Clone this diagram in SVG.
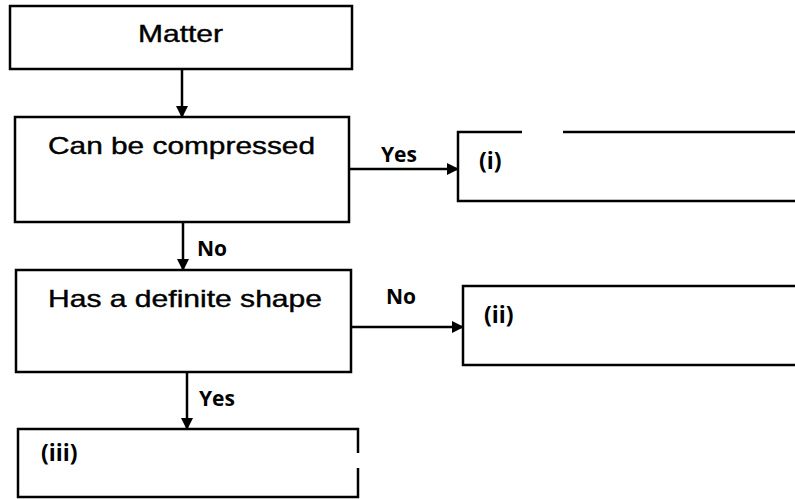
<svg xmlns="http://www.w3.org/2000/svg" width="795" height="499" viewBox="0 0 795 499">
<style>
.box{fill:none;stroke:#000;stroke-width:2.5}
.conn{fill:none;stroke:#000;stroke-width:2.5}
.main{font-family:"Liberation Sans",Arial,sans-serif;font-size:24px;fill:#000;stroke:#000;stroke-width:0.4}
.lbl{font-family:"Open Sans","Liberation Sans",sans-serif;font-size:21px;font-weight:bold;fill:#000}
.roman{font-family:"Open Sans","Liberation Sans",sans-serif;font-size:23px;font-weight:bold;fill:#000}
</style>
<defs>
<marker id="ah" markerWidth="12" markerHeight="12" refX="11" refY="6" orient="auto" markerUnits="userSpaceOnUse">
<path d="M0,0 L12,6 L0,12 Z" fill="#000"/>
</marker>
</defs>
<rect width="795" height="499" fill="#fff"/>
<g id="matter">
<rect class="box" x="10" y="6" width="342" height="63"/>
<text class="main" x="138" y="42" textLength="85" lengthAdjust="spacingAndGlyphs">Matter</text>
</g>
<g id="compressed">
<rect class="box" x="15" y="117" width="334" height="105"/>
<text class="main" x="48" y="154" textLength="267" lengthAdjust="spacingAndGlyphs">Can be compressed</text>
</g>
<g id="box-i">
<path class="box" d="M522,132 L458,132 L458,201 L795,201 M563,132 L795,132"/>
<text class="roman" x="479" y="169">(i)</text>
</g>
<g id="shape">
<rect class="box" x="16" y="270" width="335" height="102"/>
<text class="main" x="48" y="307" textLength="274" lengthAdjust="spacingAndGlyphs">Has a definite shape</text>
</g>
<g id="box-ii">
<path class="box" d="M795,286 L463,286 L463,365 L795,365"/>
<text class="roman" x="484" y="323">(ii)</text>
</g>
<g id="box-iii">
<path class="box" d="M358,453 L358,429 L18,429 L18,497 L358,497 L358,468"/>
<text class="roman" x="41" y="461">(iii)</text>
</g>
<g id="connectors">
<line class="conn" x1="182" y1="69" x2="182" y2="117" marker-end="url(#ah)"/>
<line class="conn" x1="349" y1="169" x2="458" y2="169" marker-end="url(#ah)"/>
<line class="conn" x1="183" y1="222" x2="183" y2="270" marker-end="url(#ah)"/>
<line class="conn" x1="351" y1="327" x2="463" y2="327" marker-end="url(#ah)"/>
<line class="conn" x1="187" y1="372" x2="187" y2="429" marker-end="url(#ah)"/>
<text class="lbl" x="381" y="162">Yes</text>
<text class="lbl" x="197" y="256">No</text>
<text class="lbl" x="386" y="304">No</text>
<text class="lbl" x="199" y="406">Yes</text>
</g>
</svg>
